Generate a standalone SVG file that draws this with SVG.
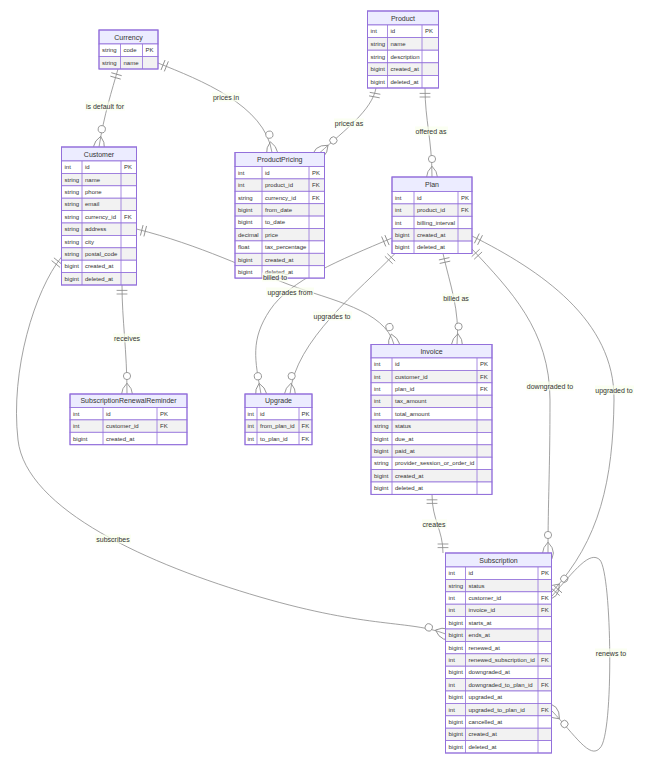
<svg xmlns="http://www.w3.org/2000/svg" width="647" height="768" viewBox="0 0 647 768">
<style>
.edge{fill:none;stroke:#8a8a8a;stroke-width:0.8}
.mk{fill:none;stroke:#8a8a8a;stroke-width:1.4}
.hdr{fill:#ECECFF;stroke:#9370DB;stroke-width:1}
.odd{fill:#ffffff;stroke:#9370DB;stroke-width:0.8}
.even{fill:#f2f2f2;stroke:#9370DB;stroke-width:0.8}
.col{stroke:#9370DB;stroke-width:0.8}
.box{fill:none;stroke:#9370DB;stroke-width:1}
.name{font-family:"Liberation Sans",Arial,sans-serif;font-size:7px;fill:#333;text-anchor:middle;dominant-baseline:central}
.att{font-family:"Liberation Sans",Arial,sans-serif;font-size:6px;fill:#333;dominant-baseline:central}
.lbl{font-family:"Liberation Sans",Arial,sans-serif;font-size:7px;fill:#333;text-anchor:middle;dominant-baseline:central}
.lblbox{fill:#F9FFEC;opacity:0.7}
</style>
<defs>
<marker id="oneStart" markerUnits="userSpaceOnUse" viewBox="0 0 18 18" refX="0" refY="9" markerWidth="10.8" markerHeight="10.8" orient="auto" overflow="visible"><path class="mk" d="M9,0 L9,18 M15,0 L15,18"/></marker>
<marker id="oneEnd" markerUnits="userSpaceOnUse" viewBox="0 0 18 18" refX="18" refY="9" markerWidth="10.8" markerHeight="10.8" orient="auto" overflow="visible"><path class="mk" d="M3,0 L3,18 M9,0 L9,18"/></marker>
<marker id="zmEnd" markerUnits="userSpaceOnUse" viewBox="0 0 57 36" refX="39" refY="18" markerWidth="34.2" markerHeight="21.6" orient="auto" overflow="visible"><circle cx="9" cy="18" r="6" fill="#fff" stroke="#8a8a8a" stroke-width="1.4"/><path class="mk" d="M21,18 Q39,0 57,18 Q39,36 21,18"/></marker>
</defs>

<g id="connectors">
<path class="edge" marker-start="url(#oneStart)" marker-end="url(#zmEnd)" d="M118,69 C112,90 104,115 99,147"/>
<path class="edge" marker-start="url(#oneStart)" marker-end="url(#zmEnd)" d="M158,63 C200,80 265,105 272,152.5"/>
<path class="edge" marker-start="url(#oneStart)" marker-end="url(#zmEnd)" d="M376,88 C372,110 345,130 320,152.5"/>
<path class="edge" marker-start="url(#oneStart)" marker-end="url(#zmEnd)" d="M425,88 C425,120 432,140 432,177"/>
<path class="edge" marker-start="url(#oneStart)" marker-end="url(#zmEnd)" d="M136.5,229 C200,245 250,270 290,285 S385,310 394,344.5"/>
<path class="edge" marker-start="url(#oneStart)" marker-end="url(#zmEnd)" d="M122,285 C122,320 127,350 127,394"/>
<path class="edge" marker-start="url(#oneStart)" marker-end="url(#zmEnd)" d="M61.5,257 C35,290 10,370 18,440 S150,565 260,597 S410,620 445.5,634"/>
<path class="edge" marker-start="url(#oneStart)" marker-end="url(#zmEnd)" d="M443,253.5 C450,285 460,310 457,344.5"/>
<path class="edge" marker-start="url(#oneStart)" marker-end="url(#zmEnd)" d="M392,238 C340,260 290,280 270,310 S255,360 261,394"/>
<path class="edge" marker-start="url(#oneStart)" marker-end="url(#zmEnd)" d="M395,253.5 C360,290 295,340 290,394"/>
<path class="edge" marker-start="url(#oneStart)" marker-end="url(#zmEnd)" d="M472,249 C510,290 550,330 550,400 S548,500 548,553"/>
<path class="edge" marker-start="url(#oneStart)" marker-end="url(#zmEnd)" d="M472,236 C540,270 615,320 614,400 S600,540 552,592"/>
<path class="edge" marker-start="url(#oneStart)" marker-end="url(#oneEnd)" d="M432,494.4 C432,520 443,530 443,553"/>
<path class="edge" marker-start="url(#oneStart)" marker-end="url(#zmEnd)" d="M552,596 C575,570 590,550 600,560 C612,575 614,735 600,748 C590,760 575,735 552,711"/>
</g>

<g id="Currency">
<rect class="hdr" x="99" y="30" width="59" height="14"/>
<text class="name" x="128.5" y="37">Currency</text>
<rect class="odd" x="99" y="44" width="59" height="12.5"/>
<rect class="even" x="99" y="56.5" width="59" height="12.5"/>
<path class="col" d="M120.5,44 V69 M142.5,44 V69"/>
<rect class="box" x="99" y="30" width="59" height="39"/>
<text class="att" x="102" y="50.25">string</text><text class="att" x="123.5" y="50.25">code</text><text class="att" x="145.5" y="50.25">PK</text>
<text class="att" x="102" y="62.75">string</text><text class="att" x="123.5" y="62.75">name</text>
</g>

<g id="Product">
<rect class="hdr" x="367.5" y="11" width="71" height="14"/>
<text class="name" x="403" y="18">Product</text>
<rect class="odd" x="367.5" y="25" width="71" height="12.6"/>
<rect class="even" x="367.5" y="37.6" width="71" height="12.6"/>
<rect class="odd" x="367.5" y="50.2" width="71" height="12.6"/>
<rect class="even" x="367.5" y="62.8" width="71" height="12.6"/>
<rect class="odd" x="367.5" y="75.4" width="71" height="12.6"/>
<path class="col" d="M387.5,25 V88 M422,25 V88"/>
<rect class="box" x="367.5" y="11" width="71" height="77"/>
<text class="att" x="370.5" y="31.3">int</text><text class="att" x="390.5" y="31.3">id</text><text class="att" x="425" y="31.3">PK</text>
<text class="att" x="370.5" y="43.9">string</text><text class="att" x="390.5" y="43.9">name</text>
<text class="att" x="370.5" y="56.5">string</text><text class="att" x="390.5" y="56.5">description</text>
<text class="att" x="370.5" y="69.1">bigint</text><text class="att" x="390.5" y="69.1">created_at</text>
<text class="att" x="370.5" y="81.7">bigint</text><text class="att" x="390.5" y="81.7">deleted_at</text>
</g>

<g id="Customer">
<rect class="hdr" x="61.5" y="147" width="75" height="14"/>
<text class="name" x="99" y="154">Customer</text>
<rect class="odd" x="61.5" y="161" width="75" height="12.4"/>
<rect class="even" x="61.5" y="173.4" width="75" height="12.4"/>
<rect class="odd" x="61.5" y="185.8" width="75" height="12.4"/>
<rect class="even" x="61.5" y="198.2" width="75" height="12.4"/>
<rect class="odd" x="61.5" y="210.6" width="75" height="12.4"/>
<rect class="even" x="61.5" y="223" width="75" height="12.4"/>
<rect class="odd" x="61.5" y="235.4" width="75" height="12.4"/>
<rect class="even" x="61.5" y="247.8" width="75" height="12.4"/>
<rect class="odd" x="61.5" y="260.2" width="75" height="12.4"/>
<rect class="even" x="61.5" y="272.6" width="75" height="12.4"/>
<path class="col" d="M82,161 V285 M121,161 V285"/>
<rect class="box" x="61.5" y="147" width="75" height="138"/>
<text class="att" x="64.5" y="167.2">int</text><text class="att" x="85" y="167.2">id</text><text class="att" x="124" y="167.2">PK</text>
<text class="att" x="64.5" y="179.6">string</text><text class="att" x="85" y="179.6">name</text>
<text class="att" x="64.5" y="192">string</text><text class="att" x="85" y="192">phone</text>
<text class="att" x="64.5" y="204.4">string</text><text class="att" x="85" y="204.4">email</text>
<text class="att" x="64.5" y="216.8">string</text><text class="att" x="85" y="216.8">currency_id</text><text class="att" x="124" y="216.8">FK</text>
<text class="att" x="64.5" y="229.2">string</text><text class="att" x="85" y="229.2">address</text>
<text class="att" x="64.5" y="241.6">string</text><text class="att" x="85" y="241.6">city</text>
<text class="att" x="64.5" y="254">string</text><text class="att" x="85" y="254">postal_code</text>
<text class="att" x="64.5" y="266.4">bigint</text><text class="att" x="85" y="266.4">created_at</text>
<text class="att" x="64.5" y="278.8">bigint</text><text class="att" x="85" y="278.8">deleted_at</text>
</g>

<g id="ProductPricing">
<rect class="hdr" x="235" y="152.5" width="89.5" height="14"/>
<text class="name" x="279.75" y="159.5">ProductPricing</text>
<rect class="odd" x="235" y="166.5" width="89.5" height="12.4"/>
<rect class="even" x="235" y="178.9" width="89.5" height="12.4"/>
<rect class="odd" x="235" y="191.3" width="89.5" height="12.4"/>
<rect class="even" x="235" y="203.7" width="89.5" height="12.4"/>
<rect class="odd" x="235" y="216.1" width="89.5" height="12.4"/>
<rect class="even" x="235" y="228.5" width="89.5" height="12.4"/>
<rect class="odd" x="235" y="240.9" width="89.5" height="12.4"/>
<rect class="even" x="235" y="253.3" width="89.5" height="12.4"/>
<rect class="odd" x="235" y="265.7" width="89.5" height="12.4"/>
<path class="col" d="M262,166.5 V278.1 M309,166.5 V278.1"/>
<rect class="box" x="235" y="152.5" width="89.5" height="125.6"/>
<text class="att" x="238" y="172.7">int</text><text class="att" x="265" y="172.7">id</text><text class="att" x="312" y="172.7">PK</text>
<text class="att" x="238" y="185.1">int</text><text class="att" x="265" y="185.1">product_id</text><text class="att" x="312" y="185.1">FK</text>
<text class="att" x="238" y="197.5">string</text><text class="att" x="265" y="197.5">currency_id</text><text class="att" x="312" y="197.5">FK</text>
<text class="att" x="238" y="209.9">bigint</text><text class="att" x="265" y="209.9">from_date</text>
<text class="att" x="238" y="222.3">bigint</text><text class="att" x="265" y="222.3">to_date</text>
<text class="att" x="238" y="234.7">decimal</text><text class="att" x="265" y="234.7">price</text>
<text class="att" x="238" y="247.1">float</text><text class="att" x="265" y="247.1">tax_percentage</text>
<text class="att" x="238" y="259.5">bigint</text><text class="att" x="265" y="259.5">created_at</text>
<text class="att" x="238" y="271.9">bigint</text><text class="att" x="265" y="271.9">deleted_at</text>
</g>

<g id="Plan">
<rect class="hdr" x="392" y="177" width="80" height="14.5"/>
<text class="name" x="432" y="184.25">Plan</text>
<rect class="odd" x="392" y="191.5" width="80" height="12.4"/>
<rect class="even" x="392" y="203.9" width="80" height="12.4"/>
<rect class="odd" x="392" y="216.3" width="80" height="12.4"/>
<rect class="even" x="392" y="228.7" width="80" height="12.4"/>
<rect class="odd" x="392" y="241.1" width="80" height="12.4"/>
<path class="col" d="M414,191.5 V253.5 M458,191.5 V253.5"/>
<rect class="box" x="392" y="177" width="80" height="76.5"/>
<text class="att" x="395" y="197.7">int</text><text class="att" x="417" y="197.7">id</text><text class="att" x="461" y="197.7">PK</text>
<text class="att" x="395" y="210.1">int</text><text class="att" x="417" y="210.1">product_id</text><text class="att" x="461" y="210.1">FK</text>
<text class="att" x="395" y="222.5">int</text><text class="att" x="417" y="222.5">billing_interval</text>
<text class="att" x="395" y="234.9">bigint</text><text class="att" x="417" y="234.9">created_at</text>
<text class="att" x="395" y="247.3">bigint</text><text class="att" x="417" y="247.3">deleted_at</text>
</g>

<g id="Invoice">
<rect class="hdr" x="371" y="344.5" width="121" height="13.5"/>
<text class="name" x="431.5" y="351.25">Invoice</text>
<rect class="odd" x="371" y="358" width="121" height="12.4"/>
<rect class="even" x="371" y="370.4" width="121" height="12.4"/>
<rect class="odd" x="371" y="382.8" width="121" height="12.4"/>
<rect class="even" x="371" y="395.2" width="121" height="12.4"/>
<rect class="odd" x="371" y="407.6" width="121" height="12.4"/>
<rect class="even" x="371" y="420" width="121" height="12.4"/>
<rect class="odd" x="371" y="432.4" width="121" height="12.4"/>
<rect class="even" x="371" y="444.8" width="121" height="12.4"/>
<rect class="odd" x="371" y="457.2" width="121" height="12.4"/>
<rect class="even" x="371" y="469.6" width="121" height="12.4"/>
<rect class="odd" x="371" y="482" width="121" height="12.4"/>
<path class="col" d="M392,358 V494.4 M477,358 V494.4"/>
<rect class="box" x="371" y="344.5" width="121" height="149.9"/>
<text class="att" x="374" y="364.2">int</text><text class="att" x="395" y="364.2">id</text><text class="att" x="480" y="364.2">PK</text>
<text class="att" x="374" y="376.6">int</text><text class="att" x="395" y="376.6">customer_id</text><text class="att" x="480" y="376.6">FK</text>
<text class="att" x="374" y="389">int</text><text class="att" x="395" y="389">plan_id</text><text class="att" x="480" y="389">FK</text>
<text class="att" x="374" y="401.4">int</text><text class="att" x="395" y="401.4">tax_amount</text>
<text class="att" x="374" y="413.8">int</text><text class="att" x="395" y="413.8">total_amount</text>
<text class="att" x="374" y="426.2">string</text><text class="att" x="395" y="426.2">status</text>
<text class="att" x="374" y="438.6">bigint</text><text class="att" x="395" y="438.6">due_at</text>
<text class="att" x="374" y="451">bigint</text><text class="att" x="395" y="451">paid_at</text>
<text class="att" x="374" y="463.4">string</text><text class="att" x="395" y="463.4">provider_session_or_order_id</text>
<text class="att" x="374" y="475.8">bigint</text><text class="att" x="395" y="475.8">created_at</text>
<text class="att" x="374" y="488.2">bigint</text><text class="att" x="395" y="488.2">deleted_at</text>
</g>

<g id="SubscriptionRenewalReminder">
<rect class="hdr" x="70" y="394" width="117" height="13.5"/>
<text class="name" x="128.5" y="400.75">SubscriptionRenewalReminder</text>
<rect class="odd" x="70" y="407.5" width="117" height="12.4"/>
<rect class="even" x="70" y="419.9" width="117" height="12.4"/>
<rect class="odd" x="70" y="432.3" width="117" height="12.4"/>
<path class="col" d="M103,407.5 V444.7 M157,407.5 V444.7"/>
<rect class="box" x="70" y="394" width="117" height="50.7"/>
<text class="att" x="73" y="413.7">int</text><text class="att" x="106" y="413.7">id</text><text class="att" x="160" y="413.7">PK</text>
<text class="att" x="73" y="426.1">int</text><text class="att" x="106" y="426.1">customer_id</text><text class="att" x="160" y="426.1">FK</text>
<text class="att" x="73" y="438.5">bigint</text><text class="att" x="106" y="438.5">created_at</text>
</g>

<g id="Upgrade">
<rect class="hdr" x="245" y="394" width="67" height="13.5"/>
<text class="name" x="278.5" y="400.75">Upgrade</text>
<rect class="odd" x="245" y="407.5" width="67" height="12.4"/>
<rect class="even" x="245" y="419.9" width="67" height="12.4"/>
<rect class="odd" x="245" y="432.3" width="67" height="12.4"/>
<path class="col" d="M257,407.5 V444.7 M299,407.5 V444.7"/>
<rect class="box" x="245" y="394" width="67" height="50.7"/>
<text class="att" x="247.5" y="413.7">int</text><text class="att" x="260" y="413.7">id</text><text class="att" x="301.5" y="413.7">PK</text>
<text class="att" x="247.5" y="426.1">int</text><text class="att" x="260" y="426.1">from_plan_id</text><text class="att" x="301.5" y="426.1">FK</text>
<text class="att" x="247.5" y="438.5">int</text><text class="att" x="260" y="438.5">to_plan_id</text><text class="att" x="301.5" y="438.5">FK</text>
</g>

<g id="Subscription">
<rect class="hdr" x="445.5" y="553" width="106" height="14"/>
<text class="name" x="498.5" y="560">Subscription</text>
<rect class="odd" x="445.5" y="567" width="106" height="12.4"/>
<rect class="even" x="445.5" y="579.4" width="106" height="12.4"/>
<rect class="odd" x="445.5" y="591.8" width="106" height="12.4"/>
<rect class="even" x="445.5" y="604.2" width="106" height="12.4"/>
<rect class="odd" x="445.5" y="616.6" width="106" height="12.4"/>
<rect class="even" x="445.5" y="629" width="106" height="12.4"/>
<rect class="odd" x="445.5" y="641.4" width="106" height="12.4"/>
<rect class="even" x="445.5" y="653.8" width="106" height="12.4"/>
<rect class="odd" x="445.5" y="666.2" width="106" height="12.4"/>
<rect class="even" x="445.5" y="678.6" width="106" height="12.4"/>
<rect class="odd" x="445.5" y="691" width="106" height="12.4"/>
<rect class="even" x="445.5" y="703.4" width="106" height="12.4"/>
<rect class="odd" x="445.5" y="715.8" width="106" height="12.4"/>
<rect class="even" x="445.5" y="728.2" width="106" height="12.4"/>
<rect class="odd" x="445.5" y="740.6" width="106" height="12.4"/>
<path class="col" d="M465.5,567 V753 M538,567 V753"/>
<rect class="box" x="445.5" y="553" width="106" height="200"/>
<text class="att" x="448.5" y="573.2">int</text><text class="att" x="468.5" y="573.2">id</text><text class="att" x="541" y="573.2">PK</text>
<text class="att" x="448.5" y="585.6">string</text><text class="att" x="468.5" y="585.6">status</text>
<text class="att" x="448.5" y="598">int</text><text class="att" x="468.5" y="598">customer_id</text><text class="att" x="541" y="598">FK</text>
<text class="att" x="448.5" y="610.4">int</text><text class="att" x="468.5" y="610.4">invoice_id</text><text class="att" x="541" y="610.4">FK</text>
<text class="att" x="448.5" y="622.8">bigint</text><text class="att" x="468.5" y="622.8">starts_at</text>
<text class="att" x="448.5" y="635.2">bigint</text><text class="att" x="468.5" y="635.2">ends_at</text>
<text class="att" x="448.5" y="647.6">bigint</text><text class="att" x="468.5" y="647.6">renewed_at</text>
<text class="att" x="448.5" y="660">int</text><text class="att" x="468.5" y="660">renewed_subscription_id</text><text class="att" x="541" y="660">FK</text>
<text class="att" x="448.5" y="672.4">bigint</text><text class="att" x="468.5" y="672.4">downgraded_at</text>
<text class="att" x="448.5" y="684.8">int</text><text class="att" x="468.5" y="684.8">downgraded_to_plan_id</text><text class="att" x="541" y="684.8">FK</text>
<text class="att" x="448.5" y="697.2">bigint</text><text class="att" x="468.5" y="697.2">upgraded_at</text>
<text class="att" x="448.5" y="709.6">int</text><text class="att" x="468.5" y="709.6">upgraded_to_plan_id</text><text class="att" x="541" y="709.6">FK</text>
<text class="att" x="448.5" y="722">bigint</text><text class="att" x="468.5" y="722">cancelled_at</text>
<text class="att" x="448.5" y="734.4">bigint</text><text class="att" x="468.5" y="734.4">created_at</text>
<text class="att" x="448.5" y="746.8">bigint</text><text class="att" x="468.5" y="746.8">deleted_at</text>
</g>

<g id="labels">
<rect class="lblbox" x="85" y="101.5" width="40" height="9"/><text class="lbl" x="105" y="106">is default for</text>
<rect class="lblbox" x="212" y="92.5" width="28" height="9"/><text class="lbl" x="226" y="97">prices in</text>
<rect class="lblbox" x="334" y="118.5" width="30" height="9"/><text class="lbl" x="349" y="123">priced as</text>
<rect class="lblbox" x="415" y="126.5" width="33" height="9"/><text class="lbl" x="431" y="131">offered as</text>
<rect class="lblbox" x="262" y="272.5" width="26" height="9"/><text class="lbl" x="275" y="277">billed to</text>
<rect class="lblbox" x="113" y="333.5" width="28" height="9"/><text class="lbl" x="127" y="338">receives</text>
<rect class="lblbox" x="95" y="534.5" width="36" height="9"/><text class="lbl" x="113" y="539">subscribes</text>
<rect class="lblbox" x="442" y="293.5" width="28" height="9"/><text class="lbl" x="456" y="298">billed as</text>
<rect class="lblbox" x="266" y="287.5" width="48" height="9"/><text class="lbl" x="290" y="292">upgrades from</text>
<rect class="lblbox" x="313" y="311.5" width="39" height="9"/><text class="lbl" x="332" y="316">upgrades to</text>
<rect class="lblbox" x="526" y="381.5" width="48" height="9"/><text class="lbl" x="550" y="386">downgraded to</text>
<rect class="lblbox" x="595" y="385.5" width="39" height="9"/><text class="lbl" x="614" y="390">upgraded to</text>
<rect class="lblbox" x="422" y="519.5" width="25" height="9"/><text class="lbl" x="434" y="524">creates</text>
<rect class="lblbox" x="595" y="648.5" width="32" height="9"/><text class="lbl" x="611" y="653">renews to</text>
</g>
</svg>
